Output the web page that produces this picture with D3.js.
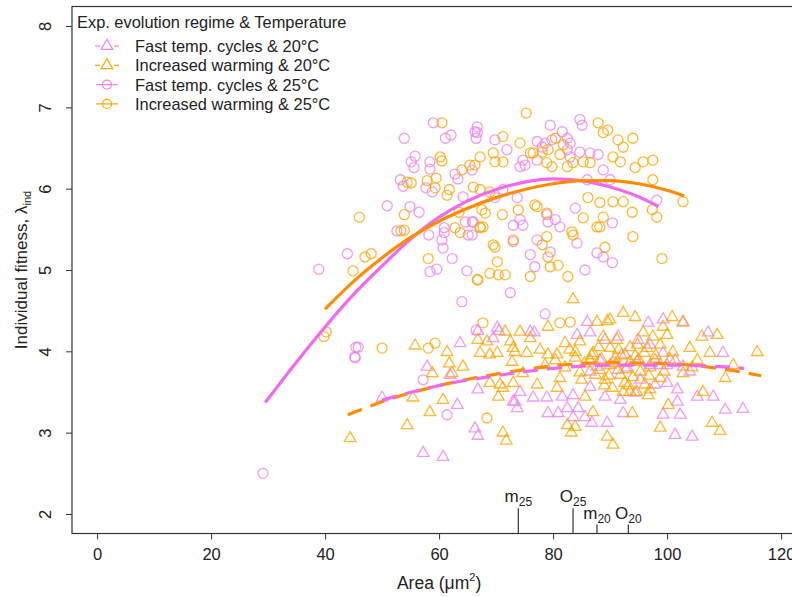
<!DOCTYPE html>
<html>
<head>
<meta charset="utf-8">
<script src="https://cdn.jsdelivr.net/npm/d3@7"></script>
<style>
  body { margin: 0; background: #fff; }
  svg { font-family: "Liberation Sans", Arial, sans-serif; }
</style>
</head>
<body>
<svg id="chart" width="792" height="597"></svg>
<script>
// tick labels
const xTicks = [0, 20, 40, 60, 80, 100, 120];
const yTicks = [2, 3, 4, 5, 6, 7, 8];

// legend entries
const legendTitle = "Exp. evolution regime & Temperature";
const legendLabels = ["Fast temp. cycles & 20\u00b0C", "Increased warming & 20\u00b0C",
                      "Fast temp. cycles & 25\u00b0C", "Increased warming & 25\u00b0C"];

// Fast temp. cycles, 25°C (circles)
const fast25 = [
  [29.1,2.50],[38.9,5.01],[45.4,4.05],[45.2,3.93],[43.9,5.2],[50.9,5.79],[53.9,6.62],[59,6.81],
  [54.9,5.78],[56.5,5.71],[52.6,5.48],[55.1,6.33],[55.6,6.26],[55.8,6.40],[53.2,6.11],[53.7,6.03],
  [58.4,6.33],[58.4,6.24],[57.7,6.01],[58.8,5.96],[61.1,6.62],[62.1,6.66],[58.2,5.43],[60.5,5.37],
  [60.7,5.27],[60.9,5.52],[60.9,5.46],[62.3,5.14],[58.4,4.98],[59.6,5.01],[64.9,4.99],[64.0,4.61],
  [65.1,5.43],[64.6,5.59],[66,5.59],[62.8,6.18],[63.3,6.12],[64.2,5.9],[66.3,6.70],[66.5,6.62],
  [66.7,6.76],[66.7,6.69],[69.8,6.60],[71.9,6.48],[75.1,6.29],[77.2,6.58],[78.6,6.56],[79.8,6.60],
  [79.5,6.78],[81.6,6.70],[82.5,6.62],[83,6.56],[84.7,6.85],[85.1,6.78],[86.5,6.44],[87.9,6.42],
  [88.8,6.23],[90,6.11],[74.2,6.27],[73,5.55],[74.7,5.55],[74.2,5.62],[73,5.35],[76,5.19],
  [76.8,5.04],[77.2,5.37],[79.5,5.22],[80.4,5.62],[81.2,5.53],[79.1,5.59],[84.2,5.33],[83.9,5.76],
  [78.9,5.68],[85.6,5.0],[87.7,5.21],[88.8,5.16],[90.4,5.09],[90.4,5.58],[98.2,5.86],[72.5,4.72],
  [65.8,5.59],[65.8,5.43],[82.5,6.48],[83,6.39],[78.1,6.51],[74.7,6.35],[77.2,6.35],[86,6.11],
  [84.7,6.45],[65.8,6.23],[73.7,5.89],[69.8,5.89],[71.2,5.99],[57.2,3.65],[61.4,3.22],[66.5,4.26],
  [78.6,4.46],[45.8,4.05],[45.3,3.92]
];

// Increased warming, 25°C (circles)
const warm25 = [
  [46,5.65],[44.9,4.99],[47,5.16],[48.1,5.20],[40.2,4.24],[39.8,4.18],[60.5,6.81],[53.9,5.68],
  [53.9,5.49],[53.3,5.48],[54.4,6.08],[55.1,6.07],[57.9,6.10],[59.5,6.13],[60.2,6.39],[60.5,6.34],
  [58.1,5.14],[59.3,6.01],[61.4,5.92],[61.8,5.99],[62.8,5.52],[63.7,5.46],[63.5,5.71],[64,6.23],
  [65.4,6.29],[66,6.02],[66.7,4.88],[67.2,5.53],[75.3,6.93],[71.2,6.64],[74.2,6.56],[76,6.44],
  [76.5,6.44],[78.1,6.45],[79.1,6.48],[80.4,6.62],[81.8,6.54],[81.2,6.42],[87.9,6.81],[88.8,6.69],
  [89.6,6.72],[91.4,6.60],[92.3,6.51],[94,6.62],[97.5,6.35],[95.8,6.33],[94.4,6.26],[97.5,6.11],
  [102.8,5.84],[97.4,5.74],[98.2,5.65],[94,5.41],[99.1,5.14],[93.9,5.71],[92.3,5.84],[90.5,5.84],
  [88.2,5.83],[88.8,5.65],[88.2,5.53],[86.1,5.89],[85.3,5.64],[83.3,5.47],[83.5,5.43],[82.6,4.92],
  [80.9,5.06],[79.5,5.04],[79.1,5.16],[78.9,5.41],[78.1,5.31],[76,4.92],[73,5.37],[76.8,5.80],
  [77.2,5.78],[78.9,5.70],[69.5,5.31],[69.8,5.28],[70.2,5.10],[68.9,4.96],[70.4,4.94],[71.6,4.94],
  [66.8,4.88],[67.7,5.53],[67.2,5.52],[67.5,5.74],[68.1,5.70],[71.1,5.68],[73.9,5.74],[68.9,5.96],
  [67.2,5.99],[69.8,6.33],[71.2,6.33],[69.5,6.44],[90.5,6.39],[91.8,6.33],[85.3,6.33],[86.5,6.32],
  [78.9,6.32],[79.8,6.27],[82.5,6.27],[83.5,6.32],[67.2,6.39],[66.3,6.29],[89.1,5.28],[87.7,5.53],
  [67.7,4.35],[50,4.04],[59.3,4.10],[58.1,4.04],[68.4,3.18],[81.2,4.35],[83,4.36]
];

// Fast temp. cycles, 20°C (triangles)
const fast20 = [
  [50,3.43],[63.7,4.10],[63.2,3.34],[57.2,2.75],[60.7,2.70],[66.3,3.05],[70.2,4.29],[69.5,4.16],
  [66.8,3.53],[57.9,3.81],[73,3.38],[61.9,3.71],[86,4.36],[96.7,4.35],[99.3,4.39],[102.8,4.36],
  [107.2,4.23],[109.8,3.98],[113.3,3.29],[76,4.24],[84.2,4.20],[104.4,2.95],[108.1,3.44],[102.3,3.22],
  [101.8,3.38],[89.5,3.12],[85.6,3.19],[80.9,3.24],[84.4,3.30],[78.9,3.43],[76.5,3.43],[74.2,3.50],
  [73.3,3.38],[81.6,3.44],[83.5,3.46],[86.5,3.56],[89.1,3.44],[91.8,3.40],[94.4,3.49],[100,3.61],
  [101.8,3.53],[104,3.75],[99.3,3.98],[97,4.08],[94.9,4.14],[87.7,3.81],[90.5,3.86],[93,3.80],
  [94.7,3.87],[97,3.83],[100,3.83],[102.8,3.81],[86.5,4.23],[89.1,4.14],[91.4,4.18],[66.8,4.25],
  [70.5,4.25],[76.7,4.23],[79.1,3.24],[82.5,3.30],[83.5,3.19],[86.8,3.12],[92.3,3.24],[99.3,3.22],
  [101.4,2.97],[110.2,3.28],[105.3,3.44],[88.2,3.89],[91.4,3.77],[95.3,3.65],[98.8,3.83],[101.4,3.89],
  [86.5,3.75],[92.6,3.96],[97.9,3.59],[66.8,2.96],[73.7,3.30]
];

// Increased warming, 20°C (triangles)
const warm20 = [
  [44.4,2.93],[54.4,3.09],[55.8,4.07],[61.4,3.99],[61.8,3.85],[64.2,3.81],[58.8,3.73],[60.7,3.40],
  [58.4,3.25],[55.4,3.43],[62.3,3.73],[66.8,4.14],[68.4,4.12],[67.2,3.98],[71.6,4.24],[68.9,3.96],
  [70.2,3.98],[72.5,4.12],[73,4.04],[70.4,3.44],[71.2,3.0],[72.8,3.87],[68.9,3.61],[70.7,3.59],
  [71.2,3.55],[83.5,4.64],[92.3,4.47],[94.4,4.42],[90,4.39],[87.7,4.36],[89.5,4.37],[100.9,4.42],
  [102.8,4.35],[99.3,4.30],[108.8,4.20],[106.1,4.18],[115.8,3.99],[79.1,4.30],[74.2,4.24],[76,4.16],
  [82.1,4.10],[84.7,4.12],[88.8,4.18],[91.2,4.14],[95.8,4.23],[97.5,4.18],[100,4.20],[73.3,3.99],
  [75.4,3.98],[77.7,4.02],[80.7,3.96],[83.9,3.99],[87,3.98],[90,4.04],[93.5,4.05],[96.5,4.04],
  [98.8,4.08],[101,3.99],[104,4.04],[107.5,3.98],[86.5,3.89],[88.2,3.77],[90,3.83],[91.8,3.71],
  [93.5,3.87],[95.3,3.75],[97,3.80],[98.8,3.67],[89.1,3.65],[92.6,3.61],[96.1,3.59],[90.9,3.92],
  [94.4,3.94],[97.9,3.89],[87.4,3.71],[90.4,3.55],[93.5,3.50],[96.7,3.46],[82.5,3.09],[83.9,3.07],
  [89.5,2.95],[98.8,3.06],[107.9,3.12],[106.3,3.50],[100.2,3.34],[93.9,3.24],[87,3.25],[85.6,3.44],
  [80.7,3.55],[77.2,3.59],[74.7,3.73],[73,3.61],[92.3,3.50],[94.7,3.50],[97,3.53],[104.4,3.80],
  [105.3,3.89],[102.8,3.73],[110.2,3.67],[111.6,3.83],[80.4,3.89],[82.1,3.80],[83.9,3.92],[78.6,3.83],
  [81.2,3.67],[84.7,3.74],[82.9,4.02],[79.1,3.96],[71.8,2.90],[83.2,3.00],[90.5,2.85],[109.3,3.02],
  [85.5,3.85],[86.8,3.95],[88.5,3.9],[89.8,3.7],[91,3.85],[92,3.95],[92.8,3.78],[94,3.68],
  [95,3.9],[96,3.98],[96.8,3.7],[98,3.95],[99.5,3.75],[100.5,3.9],[88,4.05],[91.5,4.02],
  [94.8,4.08],[85,3.65],[89,3.58],[93.2,3.58]
];

// fitted curves
const fitFast25 = [[29.5,3.37],[35,3.87],[40,4.3],[45,4.7],[50,5.05],[55,5.38],[60,5.65],[65,5.85],
  [70,5.99],[75,6.08],[80,6.12],[85,6.1],[90,6.02],[95,5.9],[98.5,5.78]];
const fitWarm25 = [[40,4.52],[45,4.86],[50,5.15],[55,5.4],[60,5.6],[65,5.76],[70,5.89],[75,5.99],
  [80,6.06],[85,6.1],[90,6.1],[95,6.06],[100,5.98],[103,5.91]];
const fitFast20 = [[50,3.4],[60,3.58],[70,3.7],[80,3.79],[90,3.83],[100,3.83],[110,3.81],[113.5,3.79]];
const fitWarm20 = [[44,3.22],[50,3.38],[60,3.58],[70,3.72],[80,3.82],[90,3.86],[100,3.85],[110,3.78],[116.5,3.7]];

// size markers on the x axis
const markNames = ["m", "O", "m", "O"];
const markSubs = ["25", "25", "20", "20"];
const markX = [73.9, 83.5, 87.7, 93.2];
const markTop = [2.07, 2.07, 1.87, 1.87];

const pinkPt = "#ee82ee", orangePt = "#ffa500";
const pinkLn = "#f06af0", orangeLn = "#ff8c00";

const svg = d3.select("#chart");
const plotLeft = 72, plotTop = 6.5, plotBottom = 533.5;

const x = d3.scaleLinear().domain([-4.4, 124.5]).range([plotLeft, plotLeft + 128.9 * 5.7]);
const y = d3.scaleLinear().domain([1.76, 8.24]).range([plotBottom, plotTop]);

svg.append("defs").append("clipPath").attr("id", "clip")
  .append("rect").attr("x", plotLeft).attr("y", plotTop)
  .attr("width", x.range()[1] - plotLeft).attr("height", plotBottom - plotTop);

const plot = svg.append("g").attr("clip-path", "url(#clip)");

function circles(data, color) {
  plot.append("g").selectAll("circle").data(data).join("circle")
    .attr("cx", d => x(d[0])).attr("cy", d => y(d[1])).attr("r", 5)
    .attr("fill", "none").attr("stroke", color).attr("stroke-width", 1.3)
    .attr("stroke-opacity", 0.8);
}
const tri = d3.symbol().type(d3.symbolTriangle).size(58);
function triangles(data, color) {
  plot.append("g").selectAll("path").data(data).join("path")
    .attr("transform", d => `translate(${x(d[0])},${y(d[1])})`)
    .attr("d", tri)
    .attr("fill", "none").attr("stroke", color).attr("stroke-width", 1.3)
    .attr("stroke-opacity", 0.8);
}

circles(fast25, pinkPt);
circles(warm25, orangePt);
triangles(fast20, pinkPt);
triangles(warm20, orangePt);

const line = d3.line().x(d => x(d[0])).y(d => y(d[1])).curve(d3.curveMonotoneX);
function fit(data, color, dash) {
  plot.append("path").attr("d", line(data))
    .attr("fill", "none").attr("stroke", color).attr("stroke-width", 3.2)
    .attr("stroke-dasharray", dash);
}
fit(fitWarm20, orangeLn, "15,9");
fit(fitFast20, pinkLn, "15,9");
fit(fitFast25, pinkLn, null);
fit(fitWarm25, orangeLn, null);

// frame
svg.append("rect").attr("x", plotLeft).attr("y", plotTop)
  .attr("width", x.range()[1] - plotLeft).attr("height", plotBottom - plotTop)
  .attr("fill", "none").attr("stroke", "#333").attr("stroke-width", 1.2);

// axes
const xAxis = svg.append("g").attr("transform", `translate(0,${plotBottom})`)
  .call(d3.axisBottom(x).tickValues(xTicks).tickSize(6).tickPadding(9));
xAxis.select(".domain").remove();
xAxis.selectAll("text").attr("font-size", 16.5).attr("fill", "#222")
  .attr("font-family", "Liberation Sans, Arial, sans-serif");
xAxis.selectAll("line").attr("stroke", "#333");

const yAxis = svg.append("g").attr("transform", `translate(${plotLeft},0)`)
  .call(d3.axisLeft(y).tickValues(yTicks).tickFormat(d3.format("d")).tickSize(6).tickPadding(0));
yAxis.select(".domain").remove();
yAxis.selectAll("line").attr("stroke", "#333");
yAxis.selectAll("text")
  .attr("font-size", 16.5).attr("fill", "#222")
  .attr("font-family", "Liberation Sans, Arial, sans-serif")
  .attr("x", null).attr("dy", null)
  .attr("text-anchor", "middle")
  .attr("transform", "translate(-27,0) rotate(-90)")
  .attr("dominant-baseline", "central");

// axis titles
const xt = svg.append("text").attr("x", x(60)).attr("y", 589)
  .attr("text-anchor", "middle").attr("font-size", 17.5).attr("fill", "#222");
xt.append("tspan").text("Area (\u03bcm");
xt.append("tspan").text("2").attr("font-size", 11).attr("dy", -8);
xt.append("tspan").text(")").attr("dy", 8);

const yt = svg.append("text").attr("transform", `translate(27,${y(5)}) rotate(-90)`)
  .attr("text-anchor", "middle").attr("font-size", 17).attr("fill", "#222");
yt.append("tspan").text("Individual fitness, \u03bb");
yt.append("tspan").text("ind").attr("font-size", 11).attr("dy", 4);

// size markers
markX.forEach((mx, i) => {
  svg.append("line").attr("x1", x(mx)).attr("x2", x(mx))
    .attr("y1", plotBottom).attr("y2", y(markTop[i]))
    .attr("stroke", "#333").attr("stroke-width", 1.2);
  const t = svg.append("text").attr("x", x(mx)).attr("y", y(markTop[i]) - 6)
    .attr("text-anchor", "middle").attr("font-size", 17).attr("fill", "#222");
  t.append("tspan").text(markNames[i]);
  t.append("tspan").text(markSubs[i]).attr("font-size", 12).attr("dy", 4);
});

// legend
const lg = svg.append("g");
lg.append("text").attr("x", 77).attr("y", 28).attr("font-size", 16.4).attr("fill", "#222")
  .text(legendTitle);
const lgColors = [pinkPt, orangePt, pinkPt, orangePt];
legendLabels.forEach((lab, i) => {
  const ly = 46 + i * 19.3;
  const g = lg.append("g");
  if (i < 2) {
    g.append("line").attr("x1", 95).attr("x2", 100).attr("y1", ly).attr("y2", ly)
      .attr("stroke", lgColors[i]).attr("stroke-width", 1.2);
    g.append("line").attr("x1", 114).attr("x2", 119).attr("y1", ly).attr("y2", ly)
      .attr("stroke", lgColors[i]).attr("stroke-width", 1.2);
    g.append("path").attr("transform", `translate(107,${ly})`).attr("d", tri)
      .attr("fill", "none").attr("stroke", lgColors[i]).attr("stroke-width", 1.2);
  } else {
    g.append("line").attr("x1", 96).attr("x2", 118).attr("y1", ly).attr("y2", ly)
      .attr("stroke", lgColors[i]).attr("stroke-width", 1.2);
    g.append("circle").attr("cx", 107).attr("cy", ly).attr("r", 4.5)
      .attr("fill", "none").attr("stroke", lgColors[i]).attr("stroke-width", 1.2);
  }
  g.append("text").attr("x", 135).attr("y", ly + 6).attr("font-size", 16.4).attr("fill", "#222")
    .text(lab);
});
</script>
</body>
</html>
